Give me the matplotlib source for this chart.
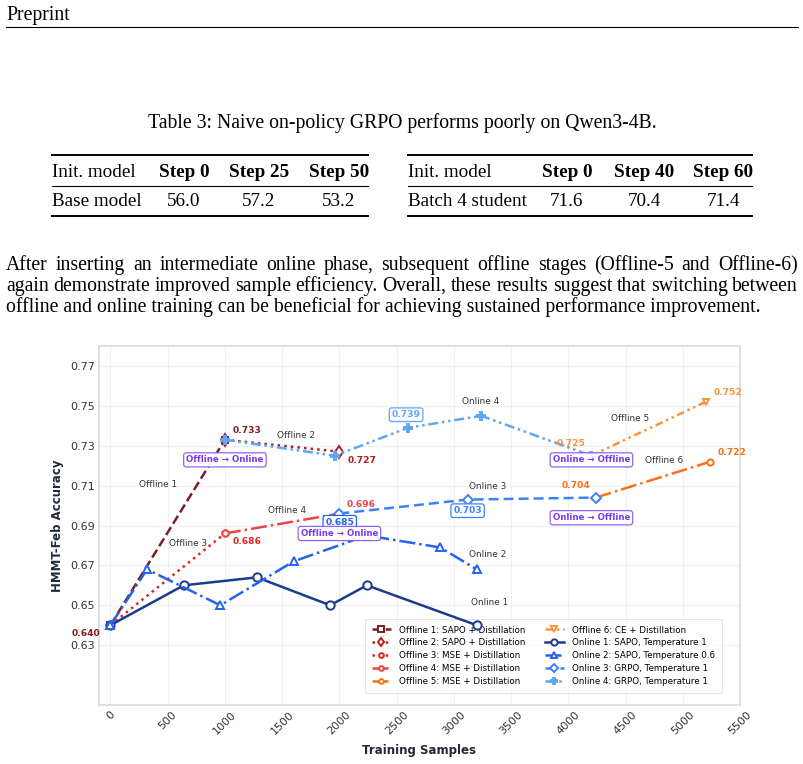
import matplotlib.pyplot as plt
from matplotlib.lines import Line2D

W, H = 804, 764
SERIF = "Liberation Serif"
BODY = 14.2

# ---- table data ----
left_cols = ["Init. model", "Step 0", "Step 25", "Step 50"]
left_row = ["Base model", "56.0", "57.2", "53.2"]
right_cols = ["Init. model", "Step 0", "Step 40", "Step 60"]
right_row = ["Batch 4 student", "71.6", "70.4", "71.4"]

para = [
    "After inserting an intermediate online phase, subsequent offline stages (Offline-5 and Offline-6)",
    "again demonstrate improved sample efficiency. Overall, these results suggest that switching between",
    "offline and online training can be beneficial for achieving sustained performance improvement.",
]

# ---- chart data ----
off1_x, off1_y = [0, 1000], [0.640, 0.733]
off2_x, off2_y = [1000, 2000], [0.733, 0.727]
off3_x, off3_y = [0, 1000], [0.640, 0.686]
off4_x, off4_y = [1000, 2000], [0.686, 0.696]
off5_x, off5_y = [4240, 5240], [0.704, 0.722]
off6_x, off6_y = [4200, 5200], [0.725, 0.752]
on1_x = [0, 640, 1280, 1920, 2240, 3200]
on1_y = [0.640, 0.660, 0.664, 0.650, 0.660, 0.640]
on2_x = [0, 320, 960, 1600, 2240, 2880, 3200]
on2_y = [0.640, 0.668, 0.650, 0.672, 0.685, 0.679, 0.668]
on3_x, on3_y = [2000, 3120, 4240], [0.696, 0.703, 0.704]
on4_x = [1000, 1960, 2600, 3240, 4200]
on4_y = [0.733, 0.725, 0.739, 0.745, 0.725]

C = {
    "off1": "#7f1d1d", "off2": "#b91c1c", "off3": "#dc2626",
    "off4": "#ef4444", "off5": "#f97316", "off6": "#fb923c",
    "on1": "#1e3a8a", "on2": "#2563eb", "on3": "#3b82f6", "on4": "#60a5fa",
    "purple": "#7c3aed",
}


def fx(x):
    return x / W


def fy(y):
    return 1 - y / H


fig = plt.figure(figsize=(W / 100, H / 100), dpi=100, facecolor="white")

# ---- page header ----
fig.text(fx(6), fy(20), "Preprint", family=SERIF, fontsize=BODY, va="baseline")
fig.add_artist(Line2D([fx(6), fx(798)], [fy(26.5)] * 2, lw=0.8, color="black"))

fig.text(fx(402), fy(128), "Table 3: Naive on-policy GRPO performs poorly on Qwen3-4B.",
         family=SERIF, fontsize=BODY, va="baseline", ha="center")


def draw_table(x0, x1, centers, cols, row, size):
    for yy, lw in [(155, 1.4), (186, 0.8), (215.5, 1.4)]:
        fig.add_artist(Line2D([fx(x0), fx(x1)], [fy(yy)] * 2, lw=lw, color="black"))
    fig.text(fx(x0), fy(177), cols[0], family=SERIF, fontsize=size, va="baseline")
    fig.text(fx(x0), fy(206), row[0], family=SERIF, fontsize=size, va="baseline")
    for cx, c, v in zip(centers, cols[1:], row[1:]):
        fig.text(fx(cx), fy(177), c, family=SERIF, fontsize=size, va="baseline",
                 ha="center", weight="bold")
        fig.text(fx(cx), fy(206), v, family=SERIF, fontsize=size, va="baseline",
                 ha="center")


draw_table(52, 368, [184, 259, 339], left_cols, left_row, 13.8)
draw_table(408, 752, [567, 644, 723], right_cols, right_row, 13.8)

# ---- justified paragraph ----
renderer = fig.canvas.get_renderer()
for i, line in enumerate(para):
    yb = 270 + 21 * i
    if i == len(para) - 1:
        fig.text(fx(6), fy(yb), line, family=SERIF, fontsize=BODY, va="baseline")
        continue
    words = line.split()
    texts = [fig.text(0, fy(yb), w, family=SERIF, fontsize=BODY, va="baseline") for w in words]
    widths = [t.get_window_extent(renderer).width for t in texts]
    gap = (798 - 6 - sum(widths)) / (len(words) - 1)
    x = 6
    for t, w in zip(texts, widths):
        t.set_x(fx(x))
        x += w + gap

# ---- chart ----
ax = fig.add_axes([fx(99), fy(705), (740 - 99) / W, (705 - 346) / H])
ax.set_facecolor("white")
for s in ax.spines.values():
    s.set_color("#d5d9e0")
    s.set_linewidth(1.2)
ax.grid(True, color="#f0f0f0", lw=0.8)
ax.set_axisbelow(True)

lw = 1.8
series = [
    (off1_x, off1_y, "off1", "--", "s", 5, "Offline 1: SAPO + Distillation"),
    (off2_x, off2_y, "off2", ":", "d", 6, "Offline 2: SAPO + Distillation"),
    (off3_x, off3_y, "off3", ":", "o", 4.5, "Offline 3: MSE + Distillation"),
    (off4_x, off4_y, "off4", "-.", "o", 4.5, "Offline 4: MSE + Distillation"),
    (off5_x, off5_y, "off5", "-.", "o", 4.5, "Offline 5: MSE + Distillation"),
    (off6_x, off6_y, "off6", (0, (3, 1.5, 1, 1.5, 1, 1.5)), "v", 5, "Offline 6: CE + Distillation"),
    (on1_x, on1_y, "on1", "-", "o", 6, "Online 1: SAPO, Temperature 1"),
    (on2_x, on2_y, "on2", "-.", "^", 6, "Online 2: SAPO, Temperature 0.6"),
    (on3_x, on3_y, "on3", (0, (4, 2)), "D", 5.5, "Online 3: GRPO, Temperature 1"),
    (on4_x, on4_y, "on4", (0, (4, 1.5, 1, 1.5, 1, 1.5)), "P", 5.5, "Online 4: GRPO, Temperature 1"),
]
for i, (xs, ys, key, ls, mk, ms, lab) in enumerate(series):
    face = C[key] if mk == "P" else "white"
    ax.plot(xs, ys, ls=ls, lw=lw, color=C[key], marker=mk, ms=ms, mfc=face,
            mec=C[key], mew=1.4, label=lab, zorder=3 + i * 0.1)

# phase labels
phase_labels = [
    ("Offline 1", 419, 0.7105), ("Offline 2", 1624, 0.7352), ("Offline 3", 676, 0.6809),
    ("Offline 4", 1542, 0.6977), ("Offline 5", 4540, 0.7437), ("Offline 6", 4837, 0.7224),
    ("Online 1", 3315, 0.6514), ("Online 2", 3292, 0.6757), ("Online 3", 3292, 0.7094),
    ("Online 4", 3234, 0.7522),
]
for txt, x, y in phase_labels:
    ax.text(x, y, txt, fontsize=6.4, color="#333333", ha="center", va="center", zorder=6)

# value labels: (x, y, colour key, offset in points, boxed)
value_labels = [
    (1000, 0.733, "off1", (16, 6.5), False), (0, 0.640, "off1", (-17.5, -6), False),
    (2000, 0.727, "off2", (16, -6.5), False), (1000, 0.686, "off3", (16, -6), False),
    (2000, 0.696, "off4", (16, 6.5), False), (5240, 0.722, "off5", (16, 6.5), False),
    (4240, 0.704, "off5", (-14.5, 8.5), False), (5200, 0.752, "off6", (16, 6.5), False),
    (4200, 0.725, "off6", (-14.5, 8.5), False), (2600, 0.739, "on4", (-1.4, 9.4), True),
    (2240, 0.685, "on2", (-19.5, 9.5), True), (3120, 0.703, "on3", (0, -8), True),
]
for x, y, key, off, boxed in value_labels:
    bbox = dict(boxstyle="round,pad=0.25", fc="white", ec=C[key], lw=0.9) if boxed else None
    ax.annotate(f"{y:.3f}", (x, y), xytext=off, textcoords="offset points",
                fontsize=6.6, weight="bold", color=C[key], ha="center", va="center",
                bbox=bbox, zorder=7, annotation_clip=False)

transitions = [
    ("Offline \u2192 Online", 1000, 0.7229), ("Offline \u2192 Online", 2000, 0.686),
    ("Online \u2192 Offline", 4202, 0.7229), ("Online \u2192 Offline", 4202, 0.6939),
]
for txt, x, y in transitions:
    ax.text(x, y, txt, fontsize=6.2, weight="bold", color=C["purple"], ha="center",
            va="center", zorder=8,
            bbox=dict(boxstyle="round,pad=0.3", fc="white", ec="#8b5cf6", lw=0.9, alpha=0.95))

ax.set_xlim(-100, 5500)
ax.set_ylim(0.60, 0.78)
ax.set_xticks(range(0, 5501, 500))
ax.set_yticks([0.63, 0.65, 0.67, 0.69, 0.71, 0.73, 0.75, 0.77])
ax.set_yticklabels([f"{v:.2f}" for v in ax.get_yticks()])
ax.tick_params(length=0, labelsize=8, labelcolor="#333333", pad=3)
plt.setp(ax.get_xticklabels(), rotation=45)
ax.set_xlabel("Training Samples", fontsize=8.5, weight="bold", color="#1f2937", labelpad=6)
ax.set_ylabel("HMMT-Feb Accuracy", fontsize=8.5, weight="bold", color="#1f2937", labelpad=4)

leg = ax.legend(loc="lower right", bbox_to_anchor=(0.9714, 0.0326), borderaxespad=0,
                ncol=2, fontsize=6.3, frameon=True, labelspacing=0.45, borderpad=0.8,
                handlelength=2.2, columnspacing=2.2, handletextpad=0.9, markerscale=0.75)
leg.get_frame().set_edgecolor("#dddddd")
leg.get_frame().set_linewidth(0.8)
leg.set_zorder(2.5)  # keep the Online 1 end marker visible above the legend box

fig.savefig("out.png", dpi=100)
